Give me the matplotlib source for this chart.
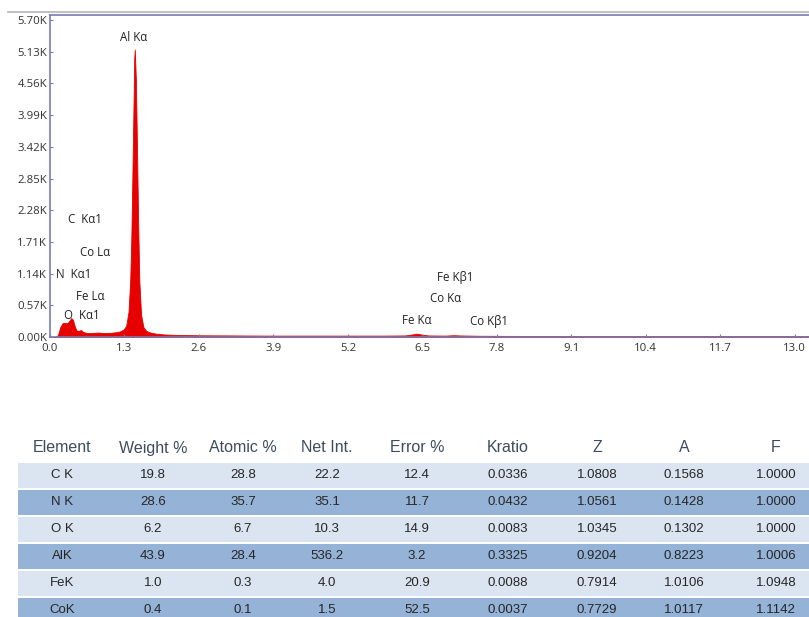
import matplotlib
matplotlib.use("Agg")
import matplotlib.pyplot as plt
from matplotlib.patches import Rectangle
from matplotlib.lines import Line2D
from matplotlib.ticker import FuncFormatter

# ---------------- spectrum data ----------------
energy = [0.00, 0.10, 0.14, 0.18, 0.22, 0.26, 0.30, 0.34, 0.37, 0.40, 0.43, 0.46,
          0.50, 0.54, 0.58, 0.65, 0.75, 0.85, 0.95, 1.05, 1.15, 1.22, 1.28, 1.33,
          1.37, 1.40, 1.42, 1.44, 1.46, 1.47, 1.48, 1.50, 1.52, 1.54, 1.56, 1.59,
          1.63, 1.68, 1.75, 1.85, 2.0, 2.3, 2.7, 3.2, 3.8, 4.5, 5.2, 5.8, 6.2,
          6.32, 6.40, 6.48, 6.6, 6.9, 7.05, 7.15, 7.5, 8.0, 9.0, 10.0, 11.0, 12.0, 13.25]
counts = [0, 0, 40, 180, 250, 255, 250, 290, 340, 310, 200, 120,
          110, 125, 90, 70, 75, 80, 70, 75, 85, 100, 130, 200,
          450, 1000, 1800, 3000, 4300, 5000, 5170, 4600, 3300, 2000, 1000, 400,
          180, 110, 80, 60, 45, 35, 30, 28, 25, 25, 25, 25, 28,
          45, 60, 45, 28, 25, 32, 28, 22, 20, 18, 17, 16, 15, 15]

x_ticks = [0.0, 1.3, 2.6, 3.9, 5.2, 6.5, 7.8, 9.1, 10.4, 11.7, 13.0]
y_ticks = [0, 570, 1140, 1710, 2280, 2850, 3420, 3990, 4560, 5130, 5700]

peak_labels = ["Al Kα", "C  Kα1", "Co Lα", "N  Kα1", "Fe Lα", "O  Kα1",
               "Fe Kβ1", "Co Kα", "Fe Kα", "Co Kβ1"]
peak_label_x = [1.22, 0.31, 0.52, 0.11, 0.46, 0.24, 6.75, 6.64, 6.14, 7.33]
peak_label_y = [5380, 2120, 1515, 1120, 730, 390, 1070, 695, 300, 285]

# ---------------- table data ----------------
columns = ["Element", "Weight %", "Atomic %", "Net Int.", "Error %", "Kratio", "Z", "A", "F"]
elements = ["C K", "N K", "O K", "AlK", "FeK", "CoK"]
weight_pct = ["19.8", "28.6", "6.2", "43.9", "1.0", "0.4"]
atomic_pct = ["28.8", "35.7", "6.7", "28.4", "0.3", "0.1"]
net_int = ["22.2", "35.1", "10.3", "536.2", "4.0", "1.5"]
error_pct = ["12.4", "11.7", "14.9", "3.2", "20.9", "52.5"]
kratio = ["0.0336", "0.0432", "0.0083", "0.3325", "0.0088", "0.0037"]
z_corr = ["1.0808", "1.0561", "1.0345", "0.9204", "0.7914", "0.7729"]
a_corr = ["0.1568", "0.1428", "0.1302", "0.8223", "1.0106", "1.0117"]
f_corr = ["1.0000", "1.0000", "1.0000", "1.0006", "1.0948", "1.1142"]

W, H = 809, 617
fig = plt.figure(figsize=(W / 100, H / 100), dpi=100)

spine_col = "#7a7ab4"
red = "#e60000"

# top grey rule
fig.add_artist(Line2D([8 / W, 1.0], [1 - 12 / H, 1 - 12 / H], color="#b4b4c0", lw=1.2))

ax = fig.add_axes([50 / W, 1 - 337 / H, (W - 50) / W, (337 - 15) / H])
ax.fill_between(energy, counts, 0, color=red, lw=0.6, edgecolor=red)
ax.set_xlim(0, 13.25)
ax.set_ylim(0, 5790)
ax.set_xticks(x_ticks)
ax.set_yticks(y_ticks)
ax.xaxis.set_major_formatter(FuncFormatter(lambda v, p: f"{v:.1f}"))
ax.yaxis.set_major_formatter(FuncFormatter(lambda v, p: f"{v / 1000:.2f}K"))
for s in ax.spines.values():
    s.set_color(spine_col)
    s.set_linewidth(1.2)
ax.spines["right"].set_visible(False)
ax.tick_params(axis="both", length=2, direction="in", color=spine_col,
               labelsize=8.2, labelcolor="#333333", pad=2)
ax.tick_params(axis="x", pad=4)
for lab in ax.get_xticklabels() + ax.get_yticklabels():
    lab.set_fontfamily("Open Sans")

for t, x, y in zip(peak_labels, peak_label_x, peak_label_y):
    ax.text(x, y, t, fontsize=8.3, family="Open Sans", color="#222222",
            ha="left", va="center")

# ---------------- table ----------------
tab = fig.add_axes([0, 0, 1, 1])
tab.set_xlim(0, W)
tab.set_ylim(H, 0)
tab.axis("off")
tab.patch.set_alpha(0)

col_x = [62, 153, 243, 327, 417, 508, 597, 684, 776]
header_y = 448
row_y0 = 475
row_h = 27
light = "#dbe5f1"
mid = "#95b3d7"

for c, x in zip(columns, col_x):
    tab.text(x, header_y, c, ha="center", va="center", fontsize=11.5,
             family="Liberation Sans", color="#3e4c5e")

table_cols = [elements, weight_pct, atomic_pct, net_int, error_pct,
              kratio, z_corr, a_corr, f_corr]
for i in range(len(elements)):
    yc = row_y0 + i * row_h
    tab.add_patch(Rectangle((18, yc - 12.5), W - 18, 25,
                            facecolor=light if i % 2 == 0 else mid, edgecolor="none"))
    for col, x in zip(table_cols, col_x):
        tab.text(x, yc, col[i], ha="center", va="center", fontsize=9.5,
                 family="Liberation Sans", color="#262626")

fig.savefig("out.png", dpi=100)
